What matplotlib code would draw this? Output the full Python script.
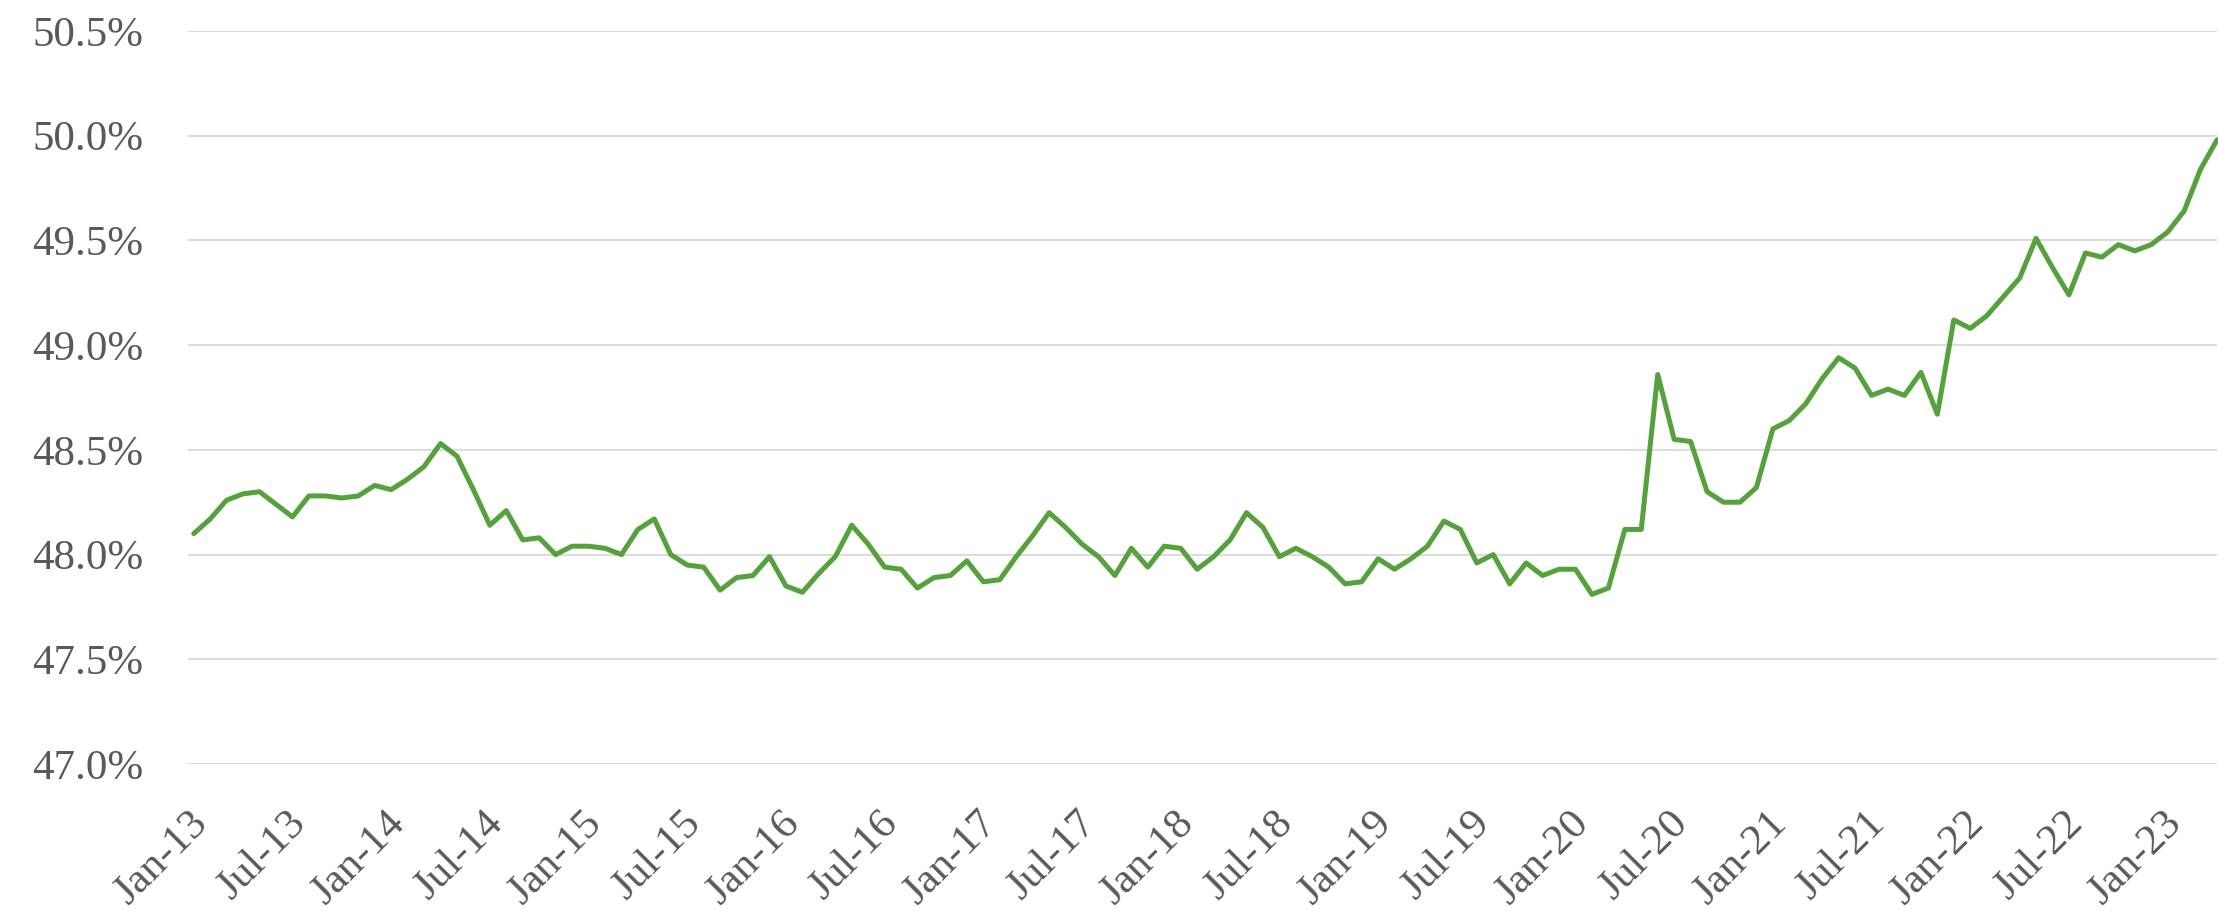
import matplotlib
matplotlib.use('Agg')
import matplotlib.pyplot as plt
import matplotlib.transforms as mtransforms
from matplotlib.ticker import FuncFormatter

# Monthly share (%), Jan-13 .. Apr-23
valores = [
    48.10, 48.17, 48.26, 48.29, 48.30, 48.24, 48.18, 48.28, 48.28, 48.27, 48.28, 48.33,  # 2013
    48.31, 48.36, 48.42, 48.53, 48.47, 48.31, 48.14, 48.21, 48.07, 48.08, 48.00, 48.04,  # 2014
    48.04, 48.03, 48.00, 48.12, 48.17, 48.00, 47.95, 47.94, 47.83, 47.89, 47.90, 47.99,  # 2015
    47.85, 47.82, 47.91, 47.99, 48.14, 48.05, 47.94, 47.93, 47.84, 47.89, 47.90, 47.97,  # 2016
    47.87, 47.88, 47.99, 48.09, 48.20, 48.13, 48.05, 47.99, 47.90, 48.03, 47.94, 48.04,  # 2017
    48.03, 47.93, 47.99, 48.07, 48.20, 48.13, 47.99, 48.03, 47.99, 47.94, 47.86, 47.87,  # 2018
    47.98, 47.93, 47.98, 48.04, 48.16, 48.12, 47.96, 48.00, 47.86, 47.96, 47.90, 47.93,  # 2019
    47.93, 47.81, 47.84, 48.12, 48.12, 48.86, 48.55, 48.54, 48.30, 48.25, 48.25, 48.32,  # 2020
    48.60, 48.64, 48.72, 48.84, 48.94, 48.89, 48.76, 48.79, 48.76, 48.87, 48.67, 49.12,  # 2021
    49.08, 49.14, 49.23, 49.32, 49.51, 49.37, 49.24, 49.44, 49.42, 49.48, 49.45, 49.48,  # 2022
    49.54, 49.64, 49.84, 49.98,                                                          # 2023
]

rotulos_x = ["Jan-13", "Jul-13", "Jan-14", "Jul-14", "Jan-15", "Jul-15", "Jan-16",
             "Jul-16", "Jan-17", "Jul-17", "Jan-18", "Jul-18", "Jan-19", "Jul-19",
             "Jan-20", "Jul-20", "Jan-21", "Jul-21", "Jan-22", "Jul-22", "Jan-23"]
ticks_y = [47.0, 47.5, 48.0, 48.5, 49.0, 49.5, 50.0, 50.5]

COR_LINHA = '#55A13B'
COR_TEXTO = '#595959'
COR_GRADE = '#D9D9D9'
FONTE = 'Liberation Serif'

fig = plt.figure(figsize=(22.18, 9.11), dpi=100)
ax = fig.add_axes([188 / 2218, 147 / 911, 2029 / 2218, 733 / 911])

x = list(range(len(valores)))
ax.plot(x, valores, color=COR_LINHA, linewidth=3.6, solid_joinstyle='round',
        solid_capstyle='round', clip_on=False, zorder=3)

ax.set_xlim(-0.35, len(valores) - 1)
ax.set_ylim(ticks_y[0], ticks_y[-1])

ax.set_yticks(ticks_y)
ax.yaxis.set_major_formatter(FuncFormatter(lambda v, p: f"{v:.1f}%"))
ax.grid(axis='y', color=COR_GRADE, linewidth=1.3)
ax.set_axisbelow(True)

ax.set_xticks([6 * i for i in range(len(rotulos_x))])
ax.set_xticklabels(rotulos_x, rotation=45, ha='right', va='top', rotation_mode='anchor')

for s in ax.spines.values():
    s.set_visible(False)
ax.tick_params(axis='both', length=0, colors=COR_TEXTO, labelsize=31)
ax.tick_params(axis='y', pad=32)
ax.tick_params(axis='x', pad=29)

# desloca um pouco os rótulos do eixo x para a esquerda
desloc = mtransforms.ScaledTranslation(-6 / 100, 0, fig.dpi_scale_trans)
for lbl in ax.get_xticklabels():
    lbl.set_fontfamily(FONTE)
    lbl.set_transform(lbl.get_transform() + desloc)
for lbl in ax.get_yticklabels():
    lbl.set_fontfamily(FONTE)

plt.savefig('out.png', dpi=100)
plt.close(fig)
